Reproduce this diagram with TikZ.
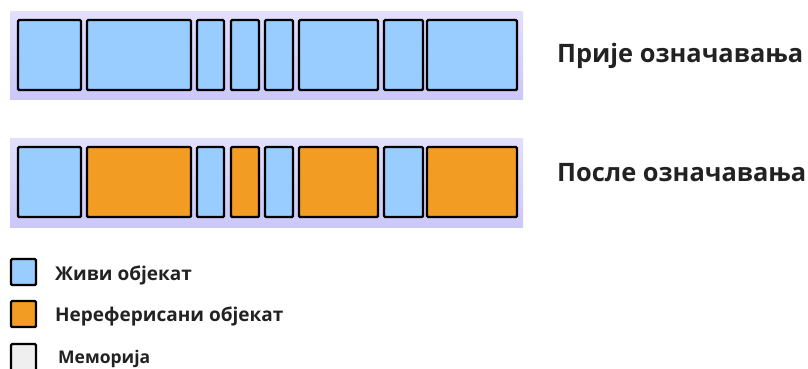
\documentclass[tikz,border=0pt]{standalone}
\usepackage{fontspec}
\setmainfont{Open Sans}
\usepackage{xcolor}
\definecolor{liveblue}{HTML}{99CCFF}
\definecolor{deadorange}{HTML}{F39C24}
\definecolor{bandtop}{HTML}{E2E0FC}
\definecolor{bandbot}{HTML}{CBC7F9}
\definecolor{memgray}{HTML}{EFEFEF}
\definecolor{inkdark}{HTML}{222222}
\tikzset{
  band/.style={top color=bandtop, bottom color=bandbot, draw=none},
  block/.style={draw=black, line width=2.4pt, rounded corners=1.2pt},
  title/.style={anchor=base west, font=\bfseries\fontsize{25.4}{28}\selectfont, text=inkdark, inner sep=0pt},
  legtext/.style={anchor=base west, font=\bfseries\fontsize{19}{21}\selectfont, text=inkdark, inner sep=0pt}
}

\begin{document}
\begin{tikzpicture}[x=1pt, y=-1pt]

            \useasboundingbox (0, 0) rectangle (808, 368);
            \clip (0, 0) rectangle (808, 368);

            \fill[band] (10, 11) rectangle (523, 99);
            \fill[band] (10, 138) rectangle (523, 227);

            \foreach \xa/\xb in {18/81, 87/191, 197/224, 231/259, 265/293, 299/378, 384/423, 427/517}
            {
                \draw[block, fill=liveblue] (\xa, 20) rectangle (\xb, 90);
            }

            \foreach \xa/\xb/\col in {18/81/liveblue, 87/191/deadorange, 197/224/liveblue,
                231/259/deadorange, 265/293/liveblue, 299/378/deadorange, 384/423/liveblue, 427/517/deadorange}
            {
                \draw[block, fill=\col] (\xa, 147) rectangle (\xb, 217);
            }

            \node[title] (before) at (557, 62) {Прије означавања};
            \node[title] (after) at (557, 181) {После означавања};

            \draw[block, fill=liveblue] (11, 259) rectangle (36, 285);
            \draw[block, fill=deadorange] (11, 301) rectangle (36, 327);
            \draw[block, fill=memgray] (11, 344) rectangle (36, 372);

            \node[legtext] (live) at (55, 280) {Живи објекат};
            \node[legtext] (unref) at (55, 321) {Нереферисани објекат};
            \node[legtext, font=\bfseries\fontsize{17.5}{20}\selectfont] (memory) at (58, 363) {Меморија};
        \end{tikzpicture}
\end{document}
